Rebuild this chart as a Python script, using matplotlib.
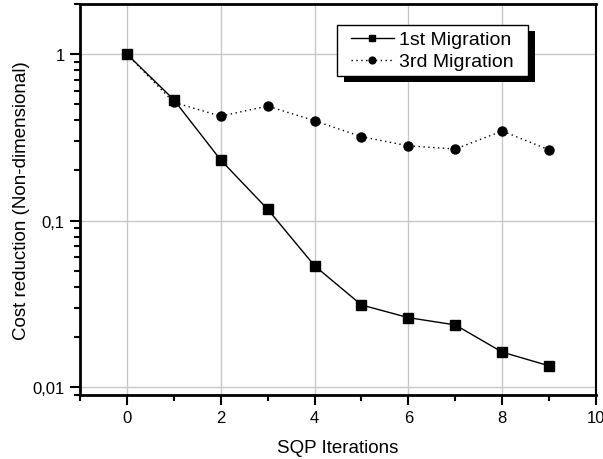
import matplotlib
matplotlib.use("Agg")
import matplotlib.pyplot as plt
from matplotlib.ticker import FixedLocator, FuncFormatter, LogLocator, NullFormatter, MultipleLocator
from matplotlib.patches import Rectangle

plt.rcParams['font.family'] = ['Liberation Sans', 'DejaVu Sans']

iterations = [0, 1, 2, 3, 4, 5, 6, 7, 8, 9]
first_migration = [1.0, 0.532, 0.231, 0.117, 0.0535, 0.0311, 0.0261, 0.0236, 0.0162, 0.0134]
third_migration = [1.0, 0.513, 0.424, 0.487, 0.398, 0.319, 0.281, 0.269, 0.345, 0.266]
y_ticks = [0.01, 0.1, 1]
y_tick_labels = ["0,01", "0,1", "1"]

W, H = 603, 460
fig = plt.figure(figsize=(W / 100, H / 100), dpi=100)
ax = fig.add_axes([80 / W, 1 - 396 / H, (596 - 80) / W, (396 - 5) / H])

ax.plot(iterations, first_migration, color='black', lw=1.0, ls='-',
        marker='s', markersize=6.5, label='1st Migration', zorder=3)
ax.plot(iterations, third_migration, color='black', lw=1.0, ls=(0, (1, 2.5)),
        marker='o', markersize=6.5, label='3rd Migration', zorder=3)

ax.set_yscale('log')
ax.set_xlim(-1, 10)
ax.set_ylim(0.00895, 2.0)

label_map = dict(zip(y_ticks, y_tick_labels))
ax.yaxis.set_major_locator(FixedLocator(y_ticks))
ax.yaxis.set_major_formatter(FuncFormatter(lambda v, p: label_map.get(round(v, 4), "")))
ax.yaxis.set_minor_locator(LogLocator(base=10, subs=range(2, 10)))
ax.yaxis.set_minor_formatter(NullFormatter())
ax.xaxis.set_major_locator(MultipleLocator(2))
ax.xaxis.set_minor_locator(MultipleLocator(1))

ax.grid(True, which='major', color='#c8c8c8', lw=1.0)
ax.set_axisbelow(True)

ax.tick_params(axis='both', which='major', direction='out', length=7, width=1.5,
               labelsize=12, pad=4)
ax.tick_params(axis='both', which='minor', direction='out', length=4, width=1.5)
ax.tick_params(top=False, right=False, which='both')

for side in ['left', 'bottom', 'top']:
    ax.spines[side].set_linewidth(2.0)
ax.spines['right'].set_linewidth(1.5)

ax.set_xlabel('SQP Iterations', fontsize=13.5, labelpad=10)
ax.set_ylabel('Cost reduction (Non-dimensional)', fontsize=13.5, labelpad=2)

# legend without its own frame; a boxed frame with a solid drop shadow is drawn behind it
leg = ax.legend(loc='upper left', bbox_to_anchor=(345 / W, 1 - 26 / H),
                bbox_transform=fig.transFigure,
                frameon=False, fontsize=14, handlelength=2.2,
                handletextpad=0.3, borderpad=0.3, labelspacing=0.22, numpoints=1,
                borderaxespad=0, markerscale=0.75)

fig.canvas.draw()
bb = leg.get_window_extent()
pad_x = 8
x0, x1 = bb.x0 - pad_x, bb.x1 + pad_x
y0, y1 = bb.y0, bb.y1
inv = fig.transFigure.inverted()
(fx0, fy0), (fx1, fy1) = inv.transform([(x0, y0), (x1, y1)])
sx, sy = 7 / W, 6 / H
fig.add_artist(Rectangle((fx0 + sx, fy0 - sy), fx1 - fx0, fy1 - fy0,
                         transform=fig.transFigure, facecolor='black',
                         edgecolor='none', zorder=5))
fig.add_artist(Rectangle((fx0, fy0), fx1 - fx0, fy1 - fy0,
                         transform=fig.transFigure, facecolor='white',
                         edgecolor='black', lw=1.0, zorder=5.2))
leg.remove()
fig.add_artist(leg)
leg.set_zorder(6)

fig.savefig('out.png', dpi=100)
